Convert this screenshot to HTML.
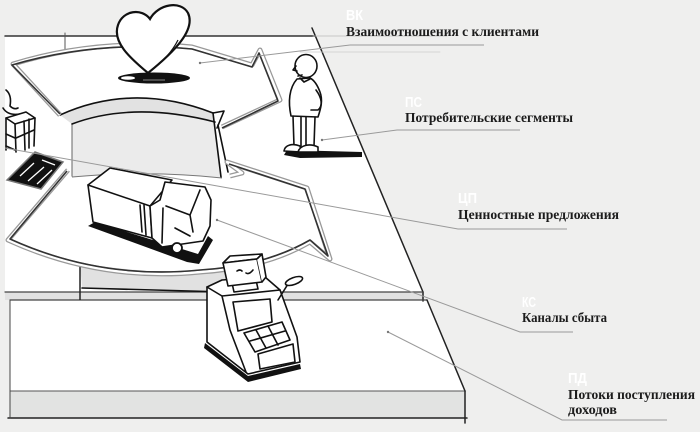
<!DOCTYPE html>
<html><head><meta charset="utf-8">
<style>
html,body{margin:0;padding:0;background:#efefee;}
svg{display:block}
.t{font-family:"Liberation Serif",serif;font-weight:bold;font-size:14px;fill:#1c1c1c}
.a{font-family:"Liberation Sans",sans-serif;font-weight:bold;font-size:14.5px;fill:#ffffff}
.k{fill:none;stroke:#111;stroke-width:1.6;stroke-linecap:round;stroke-linejoin:round}
.w{fill:#fff;stroke:#111;stroke-width:1.6;stroke-linejoin:round}
.ld{fill:none;stroke:#9a9a9a;stroke-width:1}
</style></head><body>
<svg width="700" height="432" viewBox="0 0 700 432" xmlns="http://www.w3.org/2000/svg">
<rect width="700" height="432" fill="#efefee"/>

<!-- upper board -->
<polygon points="5,36 315,36 423,292 5,292" fill="#fff"/>
<rect x="5" y="292" width="418" height="8" fill="#e1e1e1"/>
<!-- lower board -->
<polygon points="10,300 427,300 465,391 10,391" fill="#fff"/>
<rect x="10" y="391" width="455" height="27" fill="#e2e3e2"/>

<g stroke-linecap="round">
<line x1="5" y1="36" x2="315" y2="36" stroke="#333" stroke-width="1.5"/>
<line x1="65" y1="33" x2="65" y2="50" stroke="#555" stroke-width="1"/>
<line x1="312" y1="28" x2="423" y2="292" stroke="#222" stroke-width="1.5"/>
<line x1="423" y1="292" x2="423" y2="301" stroke="#222" stroke-width="1.5"/>
<line x1="5" y1="292" x2="423" y2="292" stroke="#444" stroke-width="1.2"/>
<line x1="10" y1="300" x2="427" y2="300" stroke="#444" stroke-width="1.2"/>
<line x1="427" y1="300" x2="465" y2="391" stroke="#222" stroke-width="1.5"/>
<line x1="10" y1="391" x2="465" y2="391" stroke="#555" stroke-width="1"/>
<line x1="8" y1="418" x2="467" y2="418" stroke="#222" stroke-width="1.5"/>
<line x1="10" y1="300" x2="10" y2="418" stroke="#444" stroke-width="1"/>
<line x1="465" y1="391" x2="465" y2="423" stroke="#222" stroke-width="1.5"/>
<line x1="313" y1="36" x2="447" y2="36" stroke="#bbb" stroke-width="0.8"/>
<line x1="300" y1="52" x2="440" y2="52" stroke="#ccc" stroke-width="0.8"/>
</g>

<!-- hole (sunken center) -->
<path d="M72,124 Q133,101 215,122 L222,178 Q150,170 72,177 Z" fill="#ebebeb"/>
<line x1="72" y1="122" x2="72" y2="177" stroke="#666" stroke-width="1"/>
<!-- ВК wedge front face -->
<path d="M60,115 Q133,82 213,113 L215,122 Q133,101 72,124 Z" fill="#e2e2e2"/>
<path d="M60,115 Q133,82 213,113" class="k" stroke-width="2"/>
<path d="M72,124 Q133,101 215,122" class="k" stroke-width="1.6"/>
<!-- ВК wedge outline -->
<path d="M60,115 L13,64 Q97,38 192,47 L252,65 L260,50 L280,100 L222,127" fill="none" stroke="#999" stroke-width="5" stroke-linejoin="round"/>
<path d="M60,115 L13,64 Q97,38 192,47 L252,65 L260,50 L280,100 L222,127" fill="none" stroke="#fff" stroke-width="2.4" stroke-linejoin="round"/>
<path d="M60,114 L12,65 Q97,40 192,49 L252,67 L259,53 L278,101 L222,128" fill="none" stroke="#333" stroke-width="1.6" stroke-linejoin="round"/>
<!-- hole right side -->
<path d="M213,113 L224,111 L217,128" class="k" stroke-width="1.4"/>
<path d="M213,113 L221,177 M218,125 L228,172" class="k" stroke-width="1.4"/>

<!-- ЦП wedge -->
<path d="M72,177 Q150,170 222,178 L232,176 L227,162 L307,188 L330,259 L310,242 Q265,268 200,272 Q100,282 8,240 L68,170 Z" fill="#fff"/>
<path d="M80,263 Q150,274 200,272 Q215,271 225,268 L226,292 Q150,290 82,288 Z" fill="#e1e1e1"/>
<path d="M82,288 Q150,290 226,292" class="k" stroke-width="1.4"/>
<line x1="80" y1="263" x2="80" y2="300" stroke="#222" stroke-width="1.5"/>
<path d="M68,170 L8,240 Q100,282 200,272 Q265,268 310,242 L330,259 L307,188 L227,162 L242,173 L230,176" fill="none" stroke="#999" stroke-width="5" stroke-linejoin="round"/>
<path d="M68,170 L8,240 Q100,282 200,272 Q265,268 310,242 L330,259 L307,188 L227,162 L242,173 L230,176" fill="none" stroke="#fff" stroke-width="2.4" stroke-linejoin="round"/>
<path d="M67,171 L10,239 Q100,280 200,270 Q265,266 310,240 L328,256 L305,189 L229,164" fill="none" stroke="#333" stroke-width="1.6" stroke-linejoin="round"/>
<path d="M72,177 Q150,170 222,178" fill="none" stroke="#777" stroke-width="1"/>

<!-- gift box left -->
<g class="k" stroke-width="1.5">
<path d="M6,90 Q12,95 10,106 Q14,110 18,108 M3,108 Q8,116 20,114"/>
<path d="M6,118 L26,112 L35,118 L15,124 Z" fill="#fff"/>
<path d="M6,118 L6,150 M15,124 L16,152 M35,118 L34,146 M24,121 L25,150 M29,119 L29,148"/>
<path d="M6,134 L15,138 M16,138 L34,130 M6,146 L15,150"/>
</g>
<!-- dark tray -->
<polygon points="7,180 35,152 63,162 41,189" fill="#111" stroke="#777" stroke-width="1.5"/>
<g stroke="#fff" stroke-width="1.3" fill="none">
<path d="M20,176 L34,163 M28,181 L44,167 M37,184 L52,170 M42,160 L55,165"/>
</g>

<!-- heart shadow -->
<ellipse cx="154" cy="78" rx="36" ry="5.5" fill="#111"/>
<ellipse cx="128" cy="78" rx="7" ry="1.8" fill="#fff"/>
<line x1="143" y1="80" x2="165" y2="80" stroke="#888" stroke-width="1"/>
<!-- heart -->
<path d="M148,73 C130,58 112,42 118,25 C123,10 142,8 150,19 C158,4 181,0 188,13 C196,30 174,52 148,73 Z" fill="#fff" stroke="#111" stroke-width="2.2"/>
<path d="M178,40 C172,52 162,62 155,67" fill="none" stroke="#111" stroke-width="1.2"/>

<!-- person shadow -->
<polygon points="287,150 362,152 362,157 300,158 284,155" fill="#111"/>
<!-- person -->
<g>
<path d="M297,79 C289,88 288,102 291,116 L318,117 C321,108 323,100 320,92 C317,84 314,80 310,78 Z" class="w" stroke-width="1.8"/>
<path d="M316,90 C322,98 323,106 318,110 L311,110" class="k"/>
<path d="M293,116 L294,146 M301,117 L301,146 M306,117 L306,146 M315,117 L314,146" class="k"/>
<path d="M284,151 C285,145 292,143 300,146 L301,152 Z" class="w" stroke-width="1.6"/>
<path d="M298,152 C300,145 310,143 318,147 L318,152 Z" class="w" stroke-width="1.6"/>
<ellipse cx="306" cy="66" rx="11" ry="11.5" class="w" stroke-width="2"/>
<path d="M296,66 L293,70 L297,71 M298,76 L302,75" class="k" stroke-width="1.2"/>
<path d="M300,78 L304,82 L310,79" class="k" stroke-width="1.2"/>
</g>

<!-- truck -->
<polygon points="88,226 95,222 198,254 208,236 213,240 199,264 187,262" fill="#111"/>
<g class="k" stroke="#fff" stroke-width="1">
<path d="M100,229 L112,233 M120,236 L135,241 M145,244 L160,249"/>
</g>
<path d="M88,185 L110,168 L172,180 L150,206 L152,238 L93,222 Z" class="w" stroke-width="1.8"/>
<path d="M88,185 L150,206" class="k"/>
<path d="M150,206 L160,200 L165,182 L205,187 L211,200 L210,226 L203,241 L162,247 L152,238 Z" class="w" stroke-width="1.8"/>
<path d="M163,208 L162,243 M166,206 L190,215 L200,190 M190,215 L193,232 M175,228 L190,236" class="k" stroke-width="1.3"/>
<path d="M140,205 L142,232 M144,205 L146,235" class="k" stroke-width="1.2"/>
<circle cx="177" cy="248" r="5" fill="#fff" stroke="#111" stroke-width="1.8"/>

<!-- cash register -->
<polygon points="205,343 248,376 300,364 301,369 248,382 204,348" fill="#111"/>
<polygon points="207,287 222,280 265,277 280,290 297,337 300,362 248,374 207,342" class="w" stroke-width="1.7"/>
<path d="M207,287 L222,296 L280,290 M222,296 L230,330 L246,372" class="k" stroke-width="1.3"/>
<polygon points="233,302 270,299 272,322 238,331" class="w" stroke-width="1.4"/>
<polygon points="244,333 282,322 290,340 255,352" class="w" stroke-width="1.4"/>
<path d="M256,330 L266,348 M268,326 L278,345 M250,341 L285,331" class="k" stroke-width="1.1"/>
<polygon points="258,354 293,344 295,362 260,369" class="w" stroke-width="1.3"/>
<path d="M278,300 L288,284" class="k" stroke-width="1.4"/>
<ellipse cx="294" cy="281" rx="9" ry="3.5" transform="rotate(-20 294 281)" class="w" stroke-width="1.4"/>
<polygon points="232,283 256,280 258,289 234,292" class="w" stroke-width="1.4"/>
<polygon points="223,263 230,256 262,254 257,259" class="w" stroke-width="1.5"/>
<polygon points="223,263 257,259 262,282 228,286" class="w" stroke-width="1.5"/>
<path d="M257,259 L262,254 L266,277 L262,282" class="w" stroke-width="1.4"/>
<path d="M237,271 Q240,269 242,271 M246,273 Q249,275 253,270" class="k" stroke-width="1.1"/>

<!-- leader lines -->
<polyline class="ld" points="200,63 350,45 484,45"/>
<polyline class="ld" points="322,140 397,130 520,130"/>
<polyline class="ld" points="5,148 458,229 567,229"/>
<polyline class="ld" points="217,220 520,332 573,332"/>
<polyline class="ld" points="388,332 562,420 667,420"/>
<circle cx="200" cy="63" r="1.2" fill="#777"/>
<circle cx="322" cy="140" r="1.2" fill="#777"/>
<circle cx="217" cy="220" r="1.2" fill="#777"/>
<circle cx="388" cy="332" r="1.2" fill="#777"/>

<!-- labels -->
<text class="a" x="346" y="20" textLength="17" lengthAdjust="spacingAndGlyphs">ВК</text>
<text class="t" x="346" y="36" textLength="193" lengthAdjust="spacingAndGlyphs">Взаимоотношения с клиентами</text>
<text class="a" x="405" y="107" textLength="17" lengthAdjust="spacingAndGlyphs">ПС</text>
<text class="t" x="405" y="122" textLength="168" lengthAdjust="spacingAndGlyphs">Потребительские сегменты</text>
<text class="a" x="458" y="203" textLength="19" lengthAdjust="spacingAndGlyphs">ЦП</text>
<text class="t" x="458" y="219" textLength="161" lengthAdjust="spacingAndGlyphs">Ценностные предложения</text>
<text class="a" x="522" y="307" textLength="14" lengthAdjust="spacingAndGlyphs">КС</text>
<text class="t" x="522" y="322" textLength="85" lengthAdjust="spacingAndGlyphs">Каналы сбыта</text>
<text class="a" x="568" y="383" textLength="19" lengthAdjust="spacingAndGlyphs">ПД</text>
<text class="t" x="568" y="399" textLength="127" lengthAdjust="spacingAndGlyphs">Потоки поступления</text>
<text class="t" x="568" y="414" textLength="49" lengthAdjust="spacingAndGlyphs">доходов</text>
</svg>
</body></html>
